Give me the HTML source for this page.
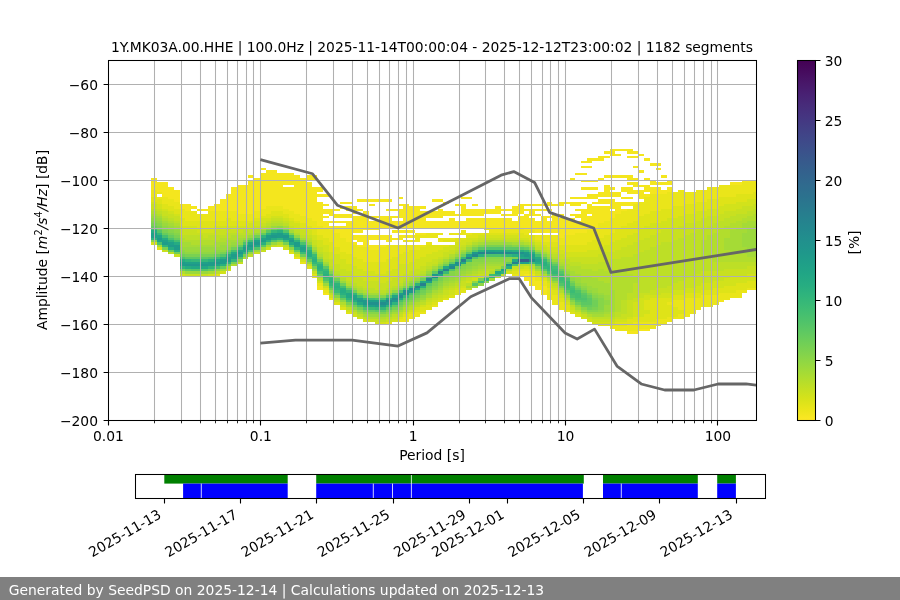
<!DOCTYPE html>
<html lang="en"><head><meta charset="utf-8"><title>PPSD 1Y.MK03A.00.HHE</title>
<style>html,body{margin:0;padding:0;background:#fff;overflow:hidden}svg{display:block;will-change:transform}text{font-family:'DejaVu Sans','Liberation Sans',sans-serif;font-size:13.89px;fill:#000}</style></head><body>
<svg width="900" height="600" viewBox="0 0 900 600">
<rect width="900" height="600" fill="#fff"/>
<g id="heat" shape-rendering="crispEdges"><path fill="#f4e61e" d="M151 178h6v12h-6zM157 182h5v10h-5zM162 182h6v15h-6zM168 187h6v12h-6zM174 190h6v12h-6zM180 204h5v5h-5zM185 204h6v7h-6zM191 206h6v3h-6zM197 209h6v2h-6zM203 209h5v2h-5zM208 206h6v5h-6zM214 204h6v7h-6zM220 199h6v12h-6zM226 194h5v17h-5zM231 187h6v24h-6zM237 185h6v29h-6zM243 185h5v29h-5zM248 180h6v34h-6zM248 175h6v3h-6zM254 178h6v33h-6zM260 173h6v36h-6zM260 168h6v2h-6zM266 170h5v36h-5zM271 170h6v36h-6zM277 173h6v33h-6zM283 187h6v22h-6zM283 173h6v12h-6zM289 187h5v24h-5zM289 173h5v12h-5zM294 175h6v39h-6zM300 178h6v38h-6zM306 182h6v36h-6zM306 175h6v5h-6zM312 187h5v34h-5zM312 175h5v5h-5zM317 286h6v4h-6zM317 202h6v24h-6zM317 194h6v3h-6zM317 187h6v5h-6zM323 293h6v2h-6zM323 221h6v7h-6zM323 216h6v2h-6zM323 209h6v5h-6zM323 204h6v2h-6zM323 194h6v3h-6zM329 226h5v4h-5zM329 221h5v2h-5zM329 209h5v7h-5zM334 226h6v7h-6zM334 221h6v2h-6zM334 214h6v4h-6zM334 209h6v2h-6zM340 226h6v12h-6zM340 221h6v2h-6zM340 214h6v4h-6zM340 206h6v3h-6zM340 202h6v2h-6zM346 221h6v21h-6zM346 214h6v4h-6zM346 206h6v5h-6zM346 202h6v2h-6zM352 242h5v3h-5zM352 235h5v5h-5zM352 216h5v17h-5zM352 206h5v8h-5zM357 245h6v2h-6zM357 235h6v7h-6zM357 216h6v17h-6zM357 209h6v2h-6zM357 199h6v3h-6zM363 235h6v12h-6zM363 211h6v19h-6zM363 199h6v3h-6zM369 245h6v5h-6zM369 235h6v5h-6zM369 221h6v9h-6zM369 216h6v2h-6zM369 204h6v2h-6zM369 199h6v3h-6zM375 245h5v5h-5zM375 235h5v5h-5zM375 221h5v9h-5zM375 216h5v2h-5zM375 199h5v3h-5zM380 245h6v2h-6zM380 235h6v5h-6zM380 216h6v12h-6zM380 199h6v3h-6zM386 235h6v7h-6zM386 216h6v12h-6zM386 209h6v2h-6zM386 199h6v3h-6zM392 238h6v2h-6zM392 230h6v3h-6zM392 221h6v7h-6zM392 216h6v2h-6zM392 209h6v2h-6zM398 235h5v5h-5zM398 230h5v3h-5zM398 221h5v7h-5zM398 209h5v9h-5zM398 204h5v2h-5zM398 197h5v2h-5zM403 235h6v3h-6zM403 230h6v3h-6zM403 204h6v24h-6zM409 235h6v3h-6zM409 230h6v3h-6zM409 206h6v22h-6zM415 233h5v2h-5zM415 206h5v22h-5zM420 233h6v2h-6zM420 211h6v17h-6zM420 206h6v3h-6zM426 221h6v7h-6zM426 211h6v7h-6zM432 221h6v7h-6zM432 211h6v7h-6zM432 199h6v3h-6zM438 221h5v7h-5zM438 209h5v9h-5zM438 199h5v3h-5zM443 221h6v7h-6zM443 211h6v5h-6zM443 202h6v2h-6zM449 218h6v10h-6zM449 211h6v5h-6zM455 221h6v7h-6zM455 214h6v2h-6zM455 204h6v2h-6zM461 221h5v7h-5zM461 204h5v12h-5zM461 197h5v2h-5zM466 218h6v10h-6zM466 209h6v7h-6zM466 197h6v2h-6zM472 218h6v10h-6zM472 209h6v7h-6zM472 204h6v2h-6zM478 218h6v10h-6zM478 209h6v7h-6zM484 218h5v10h-5zM484 209h5v5h-5zM489 218h6v10h-6zM489 209h6v5h-6zM495 218h6v10h-6zM495 206h6v8h-6zM501 218h5v10h-5zM501 214h5v2h-5zM501 209h5v2h-5zM506 218h6v10h-6zM506 214h6v2h-6zM506 209h6v2h-6zM512 221h6v7h-6zM512 206h6v10h-6zM518 216h6v12h-6zM518 204h6v10h-6zM524 274h5v7h-5zM524 214h5v16h-5zM524 209h5v2h-5zM524 204h5v2h-5zM529 276h6v10h-6zM529 218h6v12h-6zM529 209h6v7h-6zM529 204h6v2h-6zM535 281h6v9h-6zM535 221h6v12h-6zM535 214h6v2h-6zM535 209h6v2h-6zM535 204h6v2h-6zM541 286h6v9h-6zM541 216h6v17h-6zM541 209h6v2h-6zM541 204h6v2h-6zM547 221h5v12h-5zM547 216h5v2h-5zM547 209h5v2h-5zM547 202h5v4h-5zM552 214h6v19h-6zM552 204h6v2h-6zM558 218h6v20h-6zM558 214h6v2h-6zM558 202h6v4h-6zM564 218h6v17h-6zM564 202h6v2h-6zM570 218h5v17h-5zM570 214h5v2h-5zM570 202h5v4h-5zM570 197h5v2h-5zM570 178h5v2h-5zM575 221h6v12h-6zM575 214h6v4h-6zM575 209h6v2h-6zM575 202h6v4h-6zM575 197h6v2h-6zM575 173h6v2h-6zM581 209h6v24h-6zM581 202h6v2h-6zM581 197h6v2h-6zM581 187h6v3h-6zM581 180h6v2h-6zM581 173h6v2h-6zM581 166h6v2h-6zM581 161h6v2h-6zM587 216h5v14h-5zM587 204h5v10h-5zM587 194h5v5h-5zM587 187h5v3h-5zM587 180h5v2h-5zM587 166h5v2h-5zM587 158h5v5h-5zM592 206h6v22h-6zM592 202h6v2h-6zM592 194h6v5h-6zM592 187h6v3h-6zM592 180h6v2h-6zM592 158h6v3h-6zM598 206h6v17h-6zM598 199h6v5h-6zM598 192h6v5h-6zM598 178h6v2h-6zM598 156h6v5h-6zM604 206h6v15h-6zM604 199h6v5h-6zM604 185h6v12h-6zM604 175h6v3h-6zM604 156h6v2h-6zM604 151h6v3h-6zM610 211h5v7h-5zM610 199h5v10h-5zM610 192h5v5h-5zM610 187h5v3h-5zM610 175h5v3h-5zM610 149h5v7h-5zM615 202h6v12h-6zM615 192h6v5h-6zM615 175h6v3h-6zM615 154h6v2h-6zM615 149h6v2h-6zM621 209h6v2h-6zM621 202h6v4h-6zM621 197h6v2h-6zM621 187h6v5h-6zM621 175h6v3h-6zM621 149h6v2h-6zM627 331h6v3h-6zM627 202h6v4h-6zM627 197h6v2h-6zM627 187h6v7h-6zM627 182h6v3h-6zM627 175h6v5h-6zM627 156h6v2h-6zM627 149h6v5h-6zM633 331h5v3h-5zM633 202h5v2h-5zM633 190h5v4h-5zM633 182h5v5h-5zM633 178h5v2h-5zM633 166h5v2h-5zM633 156h5v2h-5zM633 151h5v3h-5zM638 329h6v2h-6zM638 190h6v9h-6zM638 185h6v2h-6zM638 170h6v3h-6zM638 154h6v2h-6zM644 329h6v2h-6zM644 194h6v3h-6zM644 185h6v7h-6zM644 178h6v2h-6zM644 158h6v3h-6zM650 187h6v7h-6zM650 180h6v5h-6zM650 163h6v3h-6zM656 187h5v7h-5zM656 182h5v3h-5zM656 168h5v2h-5zM656 163h5v3h-5zM661 190h6v4h-6zM661 182h6v3h-6zM661 175h6v3h-6zM667 187h6v5h-6zM667 180h6v5h-6zM719 300h5v2h-5zM730 182h6v3h-6zM736 182h6v3h-6zM742 180h5v2h-5zM747 180h6v2h-6zM753 180h3v2h-3z"/><path fill="#eae51a" d="M151 190h6v7h-6zM157 197h5v2h-5zM157 192h5v2h-5zM162 197h6v7h-6zM168 199h6v7h-6zM174 202h6v7h-6zM180 209h5v9h-5zM185 211h6v10h-6zM191 211h6v10h-6zM197 214h6v7h-6zM203 214h5v7h-5zM208 211h6v10h-6zM214 211h6v10h-6zM220 211h6v10h-6zM226 211h5v7h-5zM231 211h6v10h-6zM237 214h6v7h-6zM243 214h5v7h-5zM248 214h6v7h-6zM254 211h6v7h-6zM260 209h6v7h-6zM266 206h5v8h-5zM271 206h6v5h-6zM277 206h6v5h-6zM283 209h6v5h-6zM289 211h5v7h-5zM294 257h6v2h-6zM294 214h6v7h-6zM300 262h6v2h-6zM300 216h6v7h-6zM306 218h6v8h-6zM312 276h5v2h-5zM312 221h5v7h-5zM317 283h6v3h-6zM317 226h6v9h-6zM323 290h6v3h-6zM323 228h6v10h-6zM329 298h5v2h-5zM329 230h5v12h-5zM334 233h6v14h-6zM340 238h6v14h-6zM346 242h6v12h-6zM352 245h5v12h-5zM357 247h6v12h-6zM363 247h6v15h-6zM369 250h6v12h-6zM375 250h5v12h-5zM380 247h6v15h-6zM386 245h6v14h-6zM392 245h6v12h-6zM398 319h5v3h-5zM398 245h5v9h-5zM403 317h6v5h-6zM403 245h6v7h-6zM403 240h6v2h-6zM409 314h6v5h-6zM409 245h6v5h-6zM409 240h6v2h-6zM415 312h5v5h-5zM415 245h5v5h-5zM415 235h5v7h-5zM420 312h6v2h-6zM420 245h6v2h-6zM420 235h6v3h-6zM426 242h6v3h-6zM426 233h6v5h-6zM432 305h6v2h-6zM432 233h6v5h-6zM438 238h5v4h-5zM438 233h5v2h-5zM443 238h6v2h-6zM449 238h6v2h-6zM449 233h6v2h-6zM455 233h6v2h-6zM461 230h5v5h-5zM466 233h6v2h-6zM484 228h5v2h-5zM489 228h6v5h-6zM495 228h6v5h-6zM501 228h5v5h-5zM506 228h6v5h-6zM512 274h6v2h-6zM512 228h6v5h-6zM518 271h6v5h-6zM518 228h6v5h-6zM524 271h5v3h-5zM524 230h5v5h-5zM529 274h6v2h-6zM529 230h6v3h-6zM535 276h6v5h-6zM535 235h6v5h-6zM541 281h6v5h-6zM541 235h6v7h-6zM547 288h5v12h-5zM547 235h5v7h-5zM552 295h6v10h-6zM552 235h6v7h-6zM558 302h6v8h-6zM558 238h6v7h-6zM564 310h6v2h-6zM564 235h6v10h-6zM570 235h5v10h-5zM575 233h6v12h-6zM581 233h6v12h-6zM587 230h5v12h-5zM592 228h6v12h-6zM598 223h6v15h-6zM604 221h6v14h-6zM610 326h5v3h-5zM610 218h5v15h-5zM615 326h6v5h-6zM615 214h6v14h-6zM621 326h6v5h-6zM621 211h6v15h-6zM627 324h6v7h-6zM627 209h6v14h-6zM633 322h5v9h-5zM633 204h5v17h-5zM638 322h6v7h-6zM638 202h6v14h-6zM644 322h6v7h-6zM644 197h6v17h-6zM650 322h6v7h-6zM650 194h6v17h-6zM656 319h5v7h-5zM656 194h5v17h-5zM661 319h6v5h-6zM661 194h6v15h-6zM667 317h6v5h-6zM667 302h6v3h-6zM667 192h6v17h-6zM673 317h5v2h-5zM673 300h5v7h-5zM673 192h5v14h-5zM678 314h6v5h-6zM678 300h6v10h-6zM678 190h6v16h-6zM684 298h6v19h-6zM684 192h6v12h-6zM690 298h6v16h-6zM690 192h6v12h-6zM696 298h5v12h-5zM696 190h5v12h-5zM701 295h6v12h-6zM701 190h6v12h-6zM707 295h6v12h-6zM707 187h6v12h-6zM713 295h6v10h-6zM713 187h6v12h-6zM719 293h5v7h-5zM719 185h5v12h-5zM724 293h6v7h-6zM724 185h6v12h-6zM730 293h6v5h-6zM730 185h6v12h-6zM736 290h6v8h-6zM736 185h6v9h-6zM742 290h5v3h-5zM742 182h5v12h-5zM747 288h6v2h-6zM747 182h6v12h-6zM753 288h3v2h-3zM753 182h3v10h-3z"/><path fill="#dfe318" d="M151 197h6v5h-6zM157 247h5v3h-5zM157 199h5v5h-5zM162 204h6v5h-6zM168 206h6v5h-6zM174 209h6v5h-6zM180 218h5v8h-5zM185 221h6v5h-6zM191 221h6v5h-6zM197 221h6v7h-6zM203 221h5v7h-5zM208 221h6v7h-6zM214 274h6v2h-6zM214 221h6v5h-6zM220 221h6v5h-6zM226 218h5v8h-5zM231 221h6v5h-6zM237 221h6v5h-6zM243 221h5v5h-5zM248 221h6v2h-6zM254 218h6v3h-6zM260 216h6v2h-6zM266 214h5v4h-5zM271 211h6v5h-6zM277 211h6v5h-6zM283 214h6v4h-6zM289 252h5v2h-5zM289 218h5v3h-5zM294 221h6v2h-6zM300 223h6v5h-6zM306 266h6v3h-6zM306 226h6v4h-6zM312 274h5v2h-5zM312 228h5v7h-5zM317 235h6v5h-6zM323 288h6v2h-6zM323 238h6v7h-6zM329 242h5v10h-5zM334 302h6v3h-6zM334 247h6v7h-6zM340 307h6v3h-6zM340 252h6v7h-6zM346 312h6v2h-6zM346 254h6v10h-6zM352 257h5v9h-5zM357 259h6v10h-6zM363 262h6v9h-6zM369 262h6v9h-6zM375 262h5v12h-5zM380 262h6v12h-6zM386 322h6v2h-6zM386 259h6v12h-6zM392 257h6v12h-6zM398 317h5v2h-5zM398 254h5v10h-5zM403 314h6v3h-6zM403 252h6v12h-6zM409 312h6v2h-6zM409 250h6v12h-6zM415 310h5v2h-5zM415 250h5v9h-5zM420 307h6v5h-6zM420 247h6v10h-6zM426 305h6v5h-6zM426 245h6v9h-6zM432 302h6v3h-6zM432 245h6v7h-6zM438 300h5v2h-5zM438 245h5v5h-5zM443 298h6v2h-6zM443 245h6v2h-6zM443 240h6v2h-6zM449 295h6v3h-6zM449 240h6v2h-6zM455 290h6v5h-6zM455 238h6v4h-6zM461 288h5v5h-5zM461 238h5v2h-5zM466 235h6v3h-6zM472 233h6v5h-6zM478 233h6v2h-6zM484 233h5v2h-5zM489 233h6v2h-6zM495 233h6v2h-6zM501 233h5v2h-5zM506 233h6v2h-6zM512 271h6v3h-6zM512 233h6v2h-6zM518 269h6v2h-6zM518 233h6v5h-6zM524 269h5v2h-5zM524 235h5v3h-5zM529 271h6v3h-6zM529 235h6v5h-6zM535 240h6v2h-6zM541 278h6v3h-6zM541 242h6v3h-6zM547 283h5v5h-5zM547 242h5v5h-5zM552 290h6v5h-6zM552 242h6v5h-6zM558 298h6v4h-6zM558 245h6v5h-6zM564 305h6v5h-6zM564 245h6v7h-6zM570 312h5v2h-5zM570 245h5v7h-5zM575 314h6v3h-6zM575 245h6v7h-6zM581 245h6v7h-6zM587 242h5v8h-5zM592 240h6v10h-6zM598 324h6v2h-6zM598 238h6v9h-6zM604 324h6v2h-6zM604 235h6v10h-6zM610 324h5v2h-5zM610 233h5v9h-5zM615 322h6v4h-6zM615 228h6v12h-6zM621 322h6v4h-6zM621 226h6v12h-6zM627 319h6v5h-6zM627 223h6v12h-6zM633 317h5v5h-5zM633 221h5v12h-5zM638 317h6v5h-6zM638 216h6v12h-6zM644 314h6v8h-6zM644 300h6v10h-6zM644 214h6v12h-6zM650 298h6v24h-6zM650 211h6v12h-6zM656 298h5v21h-5zM656 211h5v12h-5zM661 298h6v21h-6zM661 209h6v12h-6zM667 305h6v12h-6zM667 298h6v4h-6zM667 209h6v9h-6zM673 307h5v10h-5zM673 295h5v5h-5zM673 206h5v12h-5zM678 310h6v4h-6zM678 295h6v5h-6zM678 206h6v10h-6zM684 293h6v5h-6zM684 204h6v10h-6zM690 293h6v5h-6zM690 204h6v10h-6zM696 293h5v5h-5zM696 202h5v9h-5zM701 290h6v5h-6zM701 202h6v9h-6zM707 290h6v5h-6zM707 199h6v10h-6zM713 288h6v7h-6zM713 199h6v10h-6zM719 288h5v5h-5zM719 197h5v9h-5zM724 286h6v7h-6zM724 197h6v7h-6zM730 286h6v7h-6zM730 197h6v7h-6zM736 283h6v7h-6zM736 194h6v8h-6zM742 283h5v7h-5zM742 194h5v8h-5zM747 281h6v7h-6zM747 194h6v5h-6zM753 281h3v7h-3zM753 192h3v7h-3z"/><path fill="#d2e21b" d="M151 242h6v3h-6zM151 202h6v2h-6zM157 204h5v5h-5zM162 209h6v2h-6zM168 211h6v3h-6zM174 214h6v2h-6zM180 274h5v2h-5zM180 226h5v4h-5zM185 226h6v4h-6zM191 226h6v4h-6zM197 228h6v5h-6zM203 228h5v5h-5zM208 274h6v2h-6zM208 228h6v5h-6zM214 226h6v4h-6zM220 271h6v3h-6zM220 226h6v4h-6zM226 269h5v2h-5zM226 226h5v2h-5zM231 226h6v4h-6zM237 226h6v2h-6zM243 226h5v2h-5zM248 223h6v5h-6zM254 221h6v5h-6zM260 218h6v5h-6zM266 247h5v3h-5zM266 218h5v3h-5zM271 216h6v2h-6zM277 245h6v2h-6zM277 216h6v2h-6zM283 247h6v3h-6zM283 218h6v3h-6zM289 221h5v5h-5zM294 254h6v3h-6zM294 223h6v5h-6zM300 259h6v3h-6zM300 228h6v2h-6zM306 230h6v5h-6zM312 235h5v5h-5zM317 281h6v2h-6zM317 240h6v7h-6zM323 245h6v7h-6zM329 295h5v3h-5zM329 252h5v7h-5zM334 254h6v10h-6zM340 259h6v10h-6zM346 310h6v2h-6zM346 264h6v7h-6zM352 314h5v3h-5zM352 266h5v10h-5zM357 317h6v2h-6zM357 269h6v9h-6zM363 319h6v3h-6zM363 271h6v10h-6zM369 271h6v10h-6zM375 322h5v2h-5zM375 274h5v7h-5zM380 322h6v2h-6zM380 274h6v9h-6zM386 271h6v10h-6zM392 319h6v3h-6zM392 269h6v9h-6zM398 264h5v12h-5zM403 312h6v2h-6zM403 264h6v10h-6zM409 310h6v2h-6zM409 262h6v9h-6zM415 307h5v3h-5zM415 259h5v10h-5zM420 305h6v2h-6zM420 257h6v9h-6zM426 302h6v3h-6zM426 254h6v8h-6zM432 300h6v2h-6zM432 252h6v7h-6zM438 298h5v2h-5zM438 250h5v7h-5zM443 295h6v3h-6zM443 247h6v5h-6zM449 290h6v5h-6zM449 245h6v5h-6zM455 288h6v2h-6zM455 242h6v5h-6zM461 286h5v2h-5zM461 240h5v5h-5zM466 281h6v2h-6zM466 238h6v4h-6zM472 278h6v3h-6zM472 238h6v2h-6zM478 276h6v2h-6zM478 235h6v3h-6zM484 235h5v3h-5zM489 235h6v3h-6zM495 235h6v3h-6zM501 235h5v3h-5zM506 271h6v3h-6zM506 235h6v3h-6zM512 269h6v2h-6zM512 235h6v3h-6zM518 238h6v2h-6zM524 266h5v3h-5zM524 238h5v2h-5zM529 269h6v2h-6zM529 240h6v2h-6zM535 274h6v2h-6zM535 242h6v3h-6zM541 245h6v2h-6zM547 281h5v2h-5zM547 247h5v3h-5zM552 288h6v2h-6zM552 247h6v5h-6zM558 295h6v3h-6zM558 250h6v4h-6zM564 302h6v3h-6zM564 252h6v5h-6zM570 310h5v2h-5zM570 252h5v5h-5zM575 312h6v2h-6zM575 252h6v5h-6zM581 317h6v2h-6zM581 252h6v5h-6zM587 319h5v3h-5zM587 250h5v7h-5zM592 322h6v2h-6zM592 250h6v7h-6zM598 322h6v2h-6zM598 247h6v7h-6zM604 322h6v2h-6zM604 245h6v7h-6zM610 322h5v2h-5zM610 242h5v10h-5zM615 319h6v3h-6zM615 240h6v10h-6zM621 319h6v3h-6zM621 238h6v9h-6zM627 317h6v2h-6zM627 235h6v10h-6zM633 302h5v15h-5zM633 233h5v9h-5zM638 298h6v19h-6zM638 228h6v12h-6zM644 310h6v4h-6zM644 295h6v5h-6zM644 226h6v12h-6zM650 295h6v3h-6zM650 223h6v12h-6zM656 295h5v3h-5zM656 223h5v10h-5zM661 293h6v5h-6zM661 221h6v9h-6zM667 293h6v5h-6zM667 218h6v12h-6zM673 290h5v5h-5zM673 218h5v10h-5zM678 290h6v5h-6zM678 216h6v10h-6zM684 288h6v5h-6zM684 214h6v9h-6zM690 288h6v5h-6zM690 214h6v9h-6zM696 286h5v7h-5zM696 211h5v10h-5zM701 283h6v7h-6zM701 211h6v7h-6zM707 283h6v7h-6zM707 209h6v7h-6zM713 281h6v7h-6zM713 209h6v7h-6zM719 281h5v7h-5zM719 206h5v8h-5zM724 278h6v8h-6zM724 204h6v7h-6zM730 276h6v10h-6zM730 204h6v7h-6zM736 276h6v7h-6zM736 202h6v7h-6zM742 276h5v7h-5zM742 202h5v4h-5zM747 274h6v7h-6zM747 199h6v7h-6zM753 274h3v7h-3zM753 199h3v5h-3z"/><path fill="#c8e020" d="M151 204h6v5h-6zM157 209h5v2h-5zM162 250h6v2h-6zM162 211h6v5h-6zM168 214h6v4h-6zM174 254h6v3h-6zM174 216h6v5h-6zM180 230h5v5h-5zM185 274h6v2h-6zM185 230h6v5h-6zM191 274h6v2h-6zM191 230h6v5h-6zM197 274h6v2h-6zM197 233h6v2h-6zM203 274h5v2h-5zM203 233h5v5h-5zM208 233h6v2h-6zM214 230h6v5h-6zM220 230h6v5h-6zM226 228h5v5h-5zM231 230h6v3h-6zM237 262h6v2h-6zM237 228h6v5h-6zM243 228h5v2h-5zM248 228h6v2h-6zM254 252h6v2h-6zM254 226h6v2h-6zM260 250h6v2h-6zM260 223h6v3h-6zM266 221h5v2h-5zM271 245h6v2h-6zM271 218h6v3h-6zM277 218h6v3h-6zM283 221h6v2h-6zM289 250h5v2h-5zM289 226h5v2h-5zM294 228h6v2h-6zM300 230h6v5h-6zM306 264h6v2h-6zM306 235h6v3h-6zM312 271h5v3h-5zM312 240h5v5h-5zM317 247h6v5h-6zM323 286h6v2h-6zM323 252h6v7h-6zM329 259h5v7h-5zM334 300h6v2h-6zM334 264h6v7h-6zM340 305h6v2h-6zM340 269h6v7h-6zM346 271h6v10h-6zM352 312h5v2h-5zM352 276h5v7h-5zM357 278h6v8h-6zM363 281h6v7h-6zM369 319h6v3h-6zM369 281h6v7h-6zM375 319h5v3h-5zM375 281h5v9h-5zM380 283h6v7h-6zM386 319h6v3h-6zM386 281h6v7h-6zM392 317h6v2h-6zM392 278h6v8h-6zM398 314h5v3h-5zM398 276h5v7h-5zM403 274h6v4h-6zM409 271h6v5h-6zM415 269h5v5h-5zM420 266h6v5h-6zM426 300h6v2h-6zM426 262h6v4h-6zM432 298h6v2h-6zM432 259h6v5h-6zM438 295h5v3h-5zM438 257h5v2h-5zM443 290h6v5h-6zM443 252h6v5h-6zM449 288h6v2h-6zM449 250h6v4h-6zM455 286h6v2h-6zM455 247h6v3h-6zM461 281h5v5h-5zM461 245h5v2h-5zM466 288h6v2h-6zM466 278h6v3h-6zM466 242h6v3h-6zM472 276h6v2h-6zM472 240h6v2h-6zM478 274h6v2h-6zM478 238h6v2h-6zM484 271h5v5h-5zM484 238h5v2h-5zM489 238h6v2h-6zM495 238h6v2h-6zM501 238h5v2h-5zM506 238h6v2h-6zM512 266h6v3h-6zM512 238h6v2h-6zM518 266h6v3h-6zM524 240h5v2h-5zM535 271h6v3h-6zM535 245h6v2h-6zM541 276h6v2h-6zM541 247h6v3h-6zM547 250h5v2h-5zM552 286h6v2h-6zM552 252h6v2h-6zM558 293h6v2h-6zM558 254h6v5h-6zM564 300h6v2h-6zM564 257h6v2h-6zM570 307h5v3h-5zM570 257h5v5h-5zM575 257h6v5h-6zM581 314h6v3h-6zM581 257h6v7h-6zM587 317h5v2h-5zM587 257h5v7h-5zM592 319h6v3h-6zM592 257h6v7h-6zM598 319h6v3h-6zM598 254h6v8h-6zM604 319h6v3h-6zM604 252h6v10h-6zM610 319h5v3h-5zM610 252h5v7h-5zM615 317h6v2h-6zM615 250h6v9h-6zM621 314h6v5h-6zM621 247h6v10h-6zM627 300h6v17h-6zM627 245h6v12h-6zM633 298h5v4h-5zM633 242h5v12h-5zM638 293h6v5h-6zM638 240h6v12h-6zM644 293h6v2h-6zM644 238h6v12h-6zM650 290h6v5h-6zM650 235h6v12h-6zM656 288h5v7h-5zM656 233h5v12h-5zM661 288h6v5h-6zM661 230h6v12h-6zM667 286h6v7h-6zM667 230h6v12h-6zM673 283h5v7h-5zM673 228h5v12h-5zM678 281h6v9h-6zM678 226h6v12h-6zM684 278h6v10h-6zM684 223h6v12h-6zM690 276h6v12h-6zM690 223h6v10h-6zM696 274h5v12h-5zM696 221h5v9h-5zM701 271h6v12h-6zM701 218h6v10h-6zM707 271h6v12h-6zM707 216h6v10h-6zM713 271h6v10h-6zM713 216h6v7h-6zM719 271h5v10h-5zM719 214h5v7h-5zM724 269h6v9h-6zM724 211h6v7h-6zM730 269h6v7h-6zM730 211h6v5h-6zM736 269h6v7h-6zM736 209h6v5h-6zM742 269h5v7h-5zM742 206h5v8h-5zM747 266h6v8h-6zM747 206h6v5h-6zM753 266h3v8h-3zM753 204h3v5h-3z"/><path fill="#bddf26" d="M151 209h6v2h-6zM157 211h5v3h-5zM162 216h6v2h-6zM168 252h6v2h-6zM168 218h6v3h-6zM174 221h6v2h-6zM180 235h5v3h-5zM185 235h6v5h-6zM191 235h6v5h-6zM197 235h6v5h-6zM203 238h5v2h-5zM208 235h6v5h-6zM214 271h6v3h-6zM214 235h6v5h-6zM220 235h6v3h-6zM226 233h5v5h-5zM231 233h6v2h-6zM237 233h6v2h-6zM243 230h5v5h-5zM248 254h6v3h-6zM248 230h6v3h-6zM254 228h6v2h-6zM260 226h6v2h-6zM266 223h5v3h-5zM271 221h6v2h-6zM277 221h6v2h-6zM283 245h6v2h-6zM283 223h6v3h-6zM289 228h5v2h-5zM294 230h6v3h-6zM300 235h6v3h-6zM306 238h6v2h-6zM312 245h5v2h-5zM317 278h6v3h-6zM317 252h6v2h-6zM323 259h6v3h-6zM329 293h5v2h-5zM329 266h5v3h-5zM334 271h6v3h-6zM340 276h6v2h-6zM346 307h6v3h-6zM346 281h6v2h-6zM352 283h5v3h-5zM357 314h6v3h-6zM357 286h6v2h-6zM363 317h6v2h-6zM363 288h6v2h-6zM369 288h6v5h-6zM375 290h5v3h-5zM380 319h6v3h-6zM380 290h6v3h-6zM386 317h6v2h-6zM386 288h6v2h-6zM392 314h6v3h-6zM392 286h6v2h-6zM398 312h5v2h-5zM398 283h5v3h-5zM403 310h6v2h-6zM403 278h6v3h-6zM409 307h6v3h-6zM409 276h6v2h-6zM415 305h5v2h-5zM415 274h5v2h-5zM420 302h6v3h-6zM420 271h6v3h-6zM426 298h6v2h-6zM426 266h6v3h-6zM432 295h6v3h-6zM432 264h6v2h-6zM438 293h5v2h-5zM438 259h5v3h-5zM443 288h6v2h-6zM443 257h6v2h-6zM449 286h6v2h-6zM455 283h6v3h-6zM455 250h6v2h-6zM461 278h5v3h-5zM461 247h5v3h-5zM466 283h6v3h-6zM466 276h6v2h-6zM472 274h6v2h-6zM478 271h6v3h-6zM478 240h6v2h-6zM484 269h5v2h-5zM489 269h6v2h-6zM495 276h6v2h-6zM501 274h5v2h-5zM506 240h6v2h-6zM512 240h6v2h-6zM518 240h6v2h-6zM529 266h6v3h-6zM529 242h6v3h-6zM535 247h6v3h-6zM541 250h6v2h-6zM547 278h5v3h-5zM547 252h5v2h-5zM552 283h6v3h-6zM552 254h6v3h-6zM558 259h6v3h-6zM564 259h6v5h-6zM570 305h5v2h-5zM570 262h5v4h-5zM575 310h6v2h-6zM575 262h6v4h-6zM581 264h6v5h-6zM587 264h5v5h-5zM592 317h6v2h-6zM592 264h6v7h-6zM598 317h6v2h-6zM598 262h6v7h-6zM604 317h6v2h-6zM604 262h6v9h-6zM610 317h5v2h-5zM610 259h5v12h-5zM615 312h6v5h-6zM615 259h6v12h-6zM621 300h6v14h-6zM621 257h6v14h-6zM627 293h6v7h-6zM627 257h6v17h-6zM633 283h5v15h-5zM633 254h5v22h-5zM638 252h6v41h-6zM644 250h6v43h-6zM650 247h6v43h-6zM656 245h5v43h-5zM661 242h6v46h-6zM667 242h6v44h-6zM673 240h5v43h-5zM678 238h6v43h-6zM684 235h6v43h-6zM690 233h6v43h-6zM696 230h5v44h-5zM701 257h6v14h-6zM701 228h6v12h-6zM707 259h6v12h-6zM707 226h6v9h-6zM713 262h6v9h-6zM713 223h6v10h-6zM719 262h5v9h-5zM719 221h5v7h-5zM724 262h6v7h-6zM724 218h6v8h-6zM730 262h6v7h-6zM730 216h6v7h-6zM736 262h6v7h-6zM736 214h6v7h-6zM742 262h5v7h-5zM742 214h5v4h-5zM747 262h6v4h-6zM747 211h6v5h-6zM753 262h3v4h-3zM753 209h3v5h-3z"/><path fill="#b2dd2d" d="M151 211h6v3h-6zM157 214h5v2h-5zM162 218h6v3h-6zM168 221h6v2h-6zM174 223h6v3h-6zM180 271h5v3h-5zM180 238h5v4h-5zM185 240h6v2h-6zM191 240h6v5h-6zM197 240h6v5h-6zM203 240h5v5h-5zM208 240h6v5h-6zM214 240h6v2h-6zM220 238h6v4h-6zM226 266h5v3h-5zM226 238h5v2h-5zM231 264h6v2h-6zM231 235h6v5h-6zM237 235h6v3h-6zM243 257h5v2h-5zM243 235h5v3h-5zM248 233h6v2h-6zM254 230h6v3h-6zM260 228h6v2h-6zM266 226h5v2h-5zM271 223h6v3h-6zM277 242h6v3h-6zM277 223h6v3h-6zM294 233h6v2h-6zM300 257h6v2h-6zM306 240h6v2h-6zM317 254h6v3h-6zM334 298h6v2h-6zM334 274h6v2h-6zM340 302h6v3h-6zM340 278h6v3h-6zM346 283h6v3h-6zM352 310h5v2h-5zM352 286h5v2h-5zM357 288h6v2h-6zM363 290h6v3h-6zM369 317h6v2h-6zM375 317h5v2h-5zM380 317h6v2h-6zM380 293h6v2h-6zM386 290h6v3h-6zM392 288h6v2h-6zM403 307h6v3h-6zM403 281h6v2h-6zM409 305h6v2h-6zM409 278h6v3h-6zM415 302h5v3h-5zM415 276h5v2h-5zM420 300h6v2h-6zM420 274h6v2h-6zM426 269h6v2h-6zM432 293h6v2h-6zM438 290h5v3h-5zM438 262h5v2h-5zM443 286h6v2h-6zM449 283h6v3h-6zM449 254h6v3h-6zM455 281h6v2h-6zM455 252h6v2h-6zM461 276h5v2h-5zM466 274h6v2h-6zM466 245h6v2h-6zM472 271h6v3h-6zM472 242h6v3h-6zM478 269h6v2h-6zM484 266h5v3h-5zM484 240h5v2h-5zM489 271h6v3h-6zM489 266h6v3h-6zM489 240h6v2h-6zM495 266h6v3h-6zM495 240h6v2h-6zM501 240h5v2h-5zM506 269h6v2h-6zM518 264h6v2h-6zM524 264h5v2h-5zM524 242h5v3h-5zM541 274h6v2h-6zM552 257h6v2h-6zM558 290h6v3h-6zM558 262h6v2h-6zM564 298h6v2h-6zM564 264h6v5h-6zM570 266h5v5h-5zM575 266h6v8h-6zM581 312h6v2h-6zM581 269h6v7h-6zM587 314h5v3h-5zM587 269h5v7h-5zM592 271h6v7h-6zM598 269h6v12h-6zM604 314h6v3h-6zM604 271h6v12h-6zM610 312h5v5h-5zM610 271h5v19h-5zM615 271h6v41h-6zM621 271h6v29h-6zM627 274h6v19h-6zM633 276h5v7h-5zM701 240h6v17h-6zM707 235h6v24h-6zM713 233h6v29h-6zM719 228h5v34h-5zM724 250h6v12h-6zM724 226h6v12h-6zM730 252h6v10h-6zM730 223h6v7h-6zM736 254h6v8h-6zM736 221h6v7h-6zM742 254h5v8h-5zM742 218h5v5h-5zM747 257h6v5h-6zM747 216h6v5h-6zM753 257h3v5h-3zM753 214h3v7h-3z"/><path fill="#a5db36" d="M151 214h6v2h-6zM157 245h5v2h-5zM157 216h5v2h-5zM162 221h6v2h-6zM168 223h6v3h-6zM174 226h6v2h-6zM180 242h5v5h-5zM185 242h6v5h-6zM191 245h6v2h-6zM197 245h6v2h-6zM203 245h5v2h-5zM208 271h6v3h-6zM208 245h6v2h-6zM214 242h6v5h-6zM220 269h6v2h-6zM220 242h6v3h-6zM226 240h5v5h-5zM231 240h6v2h-6zM237 238h6v2h-6zM260 247h6v3h-6zM266 245h5v2h-5zM283 226h6v2h-6zM289 230h5v3h-5zM294 252h6v2h-6zM300 238h6v2h-6zM312 269h5v2h-5zM312 247h5v3h-5zM323 262h6v2h-6zM329 269h5v2h-5zM357 312h6v2h-6zM357 290h6v3h-6zM363 314h6v3h-6zM369 293h6v2h-6zM375 293h5v2h-5zM386 314h6v3h-6zM392 312h6v2h-6zM398 310h5v2h-5zM398 286h5v2h-5zM403 283h6v3h-6zM426 295h6v3h-6zM432 290h6v3h-6zM432 266h6v3h-6zM438 288h5v2h-5zM443 283h6v3h-6zM443 259h6v3h-6zM449 281h6v2h-6zM449 257h6v2h-6zM455 278h6v3h-6zM461 274h5v2h-5zM461 250h5v2h-5zM466 286h6v2h-6zM466 271h6v3h-6zM472 286h6v2h-6zM472 269h6v2h-6zM478 266h6v3h-6zM478 242h6v3h-6zM484 264h5v2h-5zM489 278h6v3h-6zM489 264h6v2h-6zM495 264h6v2h-6zM501 264h5v2h-5zM512 242h6v3h-6zM518 242h6v3h-6zM529 264h6v2h-6zM529 245h6v2h-6zM535 269h6v2h-6zM541 252h6v2h-6zM547 254h5v3h-5zM558 264h6v2h-6zM564 269h6v2h-6zM570 271h5v5h-5zM575 307h6v3h-6zM575 274h6v4h-6zM581 276h6v7h-6zM587 276h5v10h-5zM592 314h6v3h-6zM592 278h6v10h-6zM598 314h6v3h-6zM598 281h6v12h-6zM604 312h6v2h-6zM604 283h6v12h-6zM610 290h5v22h-5zM724 238h6v12h-6zM730 230h6v22h-6zM736 228h6v26h-6zM742 247h5v7h-5zM742 223h5v10h-5zM747 250h6v7h-6zM747 221h6v7h-6zM753 250h3v7h-3zM753 221h3v5h-3z"/><path fill="#9bd93c" d="M151 216h6v2h-6zM157 218h5v3h-5zM162 223h6v3h-6zM168 226h6v2h-6zM174 228h6v2h-6zM180 247h5v3h-5zM185 271h6v3h-6zM185 247h6v5h-6zM191 271h6v3h-6zM191 247h6v5h-6zM197 271h6v3h-6zM197 247h6v5h-6zM203 271h5v3h-5zM203 247h5v5h-5zM208 247h6v5h-6zM214 247h6v3h-6zM220 245h6v5h-6zM226 245h5v2h-5zM231 242h6v3h-6zM237 240h6v2h-6zM243 238h5v2h-5zM248 235h6v3h-6zM254 250h6v2h-6zM254 233h6v2h-6zM271 242h6v3h-6zM271 226h6v2h-6zM306 262h6v2h-6zM306 242h6v3h-6zM317 276h6v2h-6zM317 257h6v2h-6zM323 283h6v3h-6zM329 290h5v3h-5zM334 276h6v2h-6zM340 281h6v2h-6zM346 305h6v2h-6zM352 288h5v2h-5zM363 293h6v2h-6zM369 314h6v3h-6zM375 314h5v3h-5zM380 314h6v3h-6zM403 305h6v2h-6zM409 302h6v3h-6zM409 281h6v2h-6zM415 300h5v2h-5zM415 278h5v3h-5zM420 298h6v2h-6zM426 293h6v2h-6zM426 271h6v3h-6zM438 286h5v2h-5zM438 264h5v2h-5zM443 281h6v2h-6zM449 278h6v3h-6zM455 276h6v2h-6zM455 254h6v3h-6zM461 271h5v3h-5zM466 269h6v2h-6zM466 247h6v3h-6zM472 266h6v3h-6zM472 245h6v2h-6zM478 264h6v2h-6zM484 262h5v2h-5zM484 242h5v3h-5zM489 262h6v2h-6zM489 242h6v3h-6zM495 262h6v2h-6zM495 242h6v3h-6zM501 262h5v2h-5zM501 242h5v3h-5zM506 242h6v3h-6zM535 250h6v2h-6zM547 276h5v2h-5zM552 281h6v2h-6zM552 259h6v3h-6zM558 288h6v2h-6zM564 295h6v3h-6zM564 271h6v3h-6zM570 302h5v3h-5zM570 276h5v2h-5zM575 278h6v5h-6zM581 310h6v2h-6zM581 283h6v3h-6zM587 312h5v2h-5zM587 286h5v4h-5zM592 312h6v2h-6zM592 288h6v5h-6zM598 312h6v2h-6zM598 293h6v2h-6zM604 305h6v7h-6zM604 295h6v5h-6zM742 233h5v14h-5zM747 228h6v22h-6zM753 226h3v24h-3z"/><path fill="#90d743" d="M151 218h6v3h-6zM157 221h5v2h-5zM162 226h6v2h-6zM168 228h6v2h-6zM174 230h6v3h-6zM180 250h5v2h-5zM185 252h6v2h-6zM191 252h6v2h-6zM197 252h6v2h-6zM203 252h5v2h-5zM208 252h6v2h-6zM214 269h6v2h-6zM214 250h6v2h-6zM220 250h6v2h-6zM226 247h5v3h-5zM231 245h6v2h-6zM237 259h6v3h-6zM237 242h6v3h-6zM248 252h6v2h-6zM260 230h6v3h-6zM266 228h5v2h-5zM277 226h6v2h-6zM289 247h5v3h-5zM294 235h6v3h-6zM312 250h5v2h-5zM323 264h6v2h-6zM340 300h6v2h-6zM346 286h6v2h-6zM352 307h5v3h-5zM357 310h6v2h-6zM363 312h6v2h-6zM386 312h6v2h-6zM386 293h6v2h-6zM392 310h6v2h-6zM392 290h6v3h-6zM398 307h5v3h-5zM415 298h5v2h-5zM420 295h6v3h-6zM420 276h6v2h-6zM432 288h6v2h-6zM432 269h6v2h-6zM438 283h5v3h-5zM443 278h6v3h-6zM443 262h6v2h-6zM449 276h6v2h-6zM455 271h6v5h-6zM461 269h5v2h-5zM461 252h5v2h-5zM466 266h6v3h-6zM472 281h6v2h-6zM472 262h6v4h-6zM478 283h6v3h-6zM478 262h6v2h-6zM484 259h5v3h-5zM489 259h6v3h-6zM495 259h6v3h-6zM501 259h5v3h-5zM506 259h6v3h-6zM524 245h5v2h-5zM541 271h6v3h-6zM547 257h5v2h-5zM558 266h6v3h-6zM570 278h5v3h-5zM575 305h6v2h-6zM575 283h6v3h-6zM581 286h6v2h-6zM587 290h5v3h-5zM592 293h6v2h-6zM598 310h6v2h-6zM598 295h6v3h-6zM604 300h6v5h-6z"/><path fill="#86d549" d="M151 240h6v2h-6zM151 221h6v2h-6zM157 223h5v3h-5zM162 228h6v2h-6zM168 230h6v3h-6zM174 233h6v2h-6zM180 252h5v2h-5zM214 252h6v2h-6zM283 228h6v2h-6zM329 271h5v3h-5zM334 295h6v3h-6zM369 312h6v2h-6zM369 295h6v3h-6zM375 312h5v2h-5zM375 295h5v3h-5zM380 295h6v3h-6zM398 288h5v2h-5zM403 302h6v3h-6zM403 286h6v2h-6zM409 300h6v2h-6zM409 283h6v3h-6zM426 290h6v3h-6zM426 274h6v2h-6zM432 286h6v2h-6zM438 281h5v2h-5zM443 276h6v2h-6zM449 271h6v5h-6zM449 259h6v3h-6zM455 269h6v2h-6zM461 266h5v3h-5zM466 262h6v4h-6zM466 250h6v2h-6zM472 259h6v3h-6zM478 259h6v3h-6zM478 245h6v2h-6zM484 281h5v2h-5zM484 257h5v2h-5zM489 257h6v2h-6zM495 269h6v2h-6zM495 257h6v2h-6zM501 257h5v2h-5zM506 257h6v2h-6zM512 245h6v2h-6zM518 245h6v2h-6zM529 247h6v3h-6zM535 266h6v3h-6zM541 254h6v3h-6zM564 274h6v2h-6zM570 300h5v2h-5zM581 307h6v3h-6zM581 288h6v2h-6zM587 310h5v2h-5zM592 310h6v2h-6zM592 295h6v3h-6zM598 298h6v12h-6z"/><path fill="#7ad151" d="M151 223h6v3h-6zM157 226h5v2h-5zM162 247h6v3h-6zM162 230h6v3h-6zM168 233h6v2h-6zM174 235h6v3h-6zM185 254h6v3h-6zM191 254h6v3h-6zM197 254h6v3h-6zM203 254h5v3h-5zM208 254h6v3h-6zM220 252h6v2h-6zM231 262h6v2h-6zM243 254h5v3h-5zM243 240h5v2h-5zM248 238h6v2h-6zM283 242h6v3h-6zM289 233h5v2h-5zM300 240h6v2h-6zM312 266h5v3h-5zM346 302h6v3h-6zM357 293h6v2h-6zM380 312h6v2h-6zM386 310h6v2h-6zM392 307h6v3h-6zM398 305h5v2h-5zM415 295h5v3h-5zM415 281h5v2h-5zM420 293h6v2h-6zM426 288h6v2h-6zM432 283h6v3h-6zM438 278h5v3h-5zM438 266h5v3h-5zM443 274h6v2h-6zM455 257h6v2h-6zM461 264h5v2h-5zM472 247h6v3h-6zM478 278h6v3h-6zM478 257h6v2h-6zM484 245h5v2h-5zM489 245h6v2h-6zM495 245h6v2h-6zM501 266h5v3h-5zM501 245h5v2h-5zM506 245h6v2h-6zM512 257h6v2h-6zM547 274h5v2h-5zM552 278h6v3h-6zM552 262h6v2h-6zM558 286h6v2h-6zM564 293h6v2h-6zM570 281h5v2h-5zM575 286h6v2h-6zM587 293h5v2h-5zM592 307h6v3h-6zM592 298h6v2h-6z"/><path fill="#70cf57" d="M157 228h5v2h-5zM174 252h6v2h-6zM180 269h5v2h-5zM180 254h5v3h-5zM226 264h5v2h-5zM226 250h5v2h-5zM231 247h6v3h-6zM254 235h6v3h-6zM271 228h6v2h-6zM277 240h6v2h-6zM300 254h6v3h-6zM306 245h6v2h-6zM317 259h6v3h-6zM323 281h6v2h-6zM329 288h5v2h-5zM334 278h6v3h-6zM340 283h6v3h-6zM352 305h5v2h-5zM352 290h5v3h-5zM357 307h6v3h-6zM363 310h6v2h-6zM363 295h6v3h-6zM403 300h6v2h-6zM409 298h6v2h-6zM420 290h6v3h-6zM420 278h6v3h-6zM426 286h6v2h-6zM432 281h6v2h-6zM438 276h5v2h-5zM443 264h6v2h-6zM461 254h5v3h-5zM484 276h5v2h-5zM535 252h6v2h-6zM558 269h6v2h-6zM575 302h6v3h-6zM581 290h6v3h-6zM587 307h5v3h-5zM592 300h6v7h-6z"/><path fill="#67cc5c" d="M151 226h6v2h-6zM162 233h6v2h-6zM168 250h6v2h-6zM168 235h6v3h-6zM174 238h6v2h-6zM208 269h6v2h-6zM214 254h6v3h-6zM220 266h6v3h-6zM237 245h6v2h-6zM260 233h6v2h-6zM266 242h5v3h-5zM294 250h6v2h-6zM306 259h6v3h-6zM312 252h5v2h-5zM317 274h6v2h-6zM340 298h6v2h-6zM369 310h6v2h-6zM398 302h5v3h-5zM409 295h6v3h-6zM415 293h5v2h-5zM455 266h6v3h-6zM506 262h6v2h-6zM524 247h5v3h-5zM547 259h5v3h-5zM564 276h6v2h-6zM570 298h5v2h-5zM570 283h5v3h-5zM575 288h6v2h-6zM581 305h6v2h-6zM587 305h5v2h-5zM587 295h5v3h-5z"/><path fill="#5cc863" d="M185 269h6v2h-6zM185 257h6v2h-6zM191 257h6v2h-6zM197 257h6v2h-6zM203 257h5v2h-5zM260 245h6v2h-6zM266 230h5v3h-5zM277 228h6v2h-6zM294 238h6v2h-6zM323 266h6v3h-6zM329 274h5v2h-5zM334 293h6v2h-6zM346 288h6v2h-6zM375 310h5v2h-5zM380 310h6v2h-6zM386 307h6v3h-6zM392 305h6v2h-6zM403 298h6v2h-6zM420 288h6v2h-6zM426 283h6v3h-6zM432 271h6v3h-6zM449 262h6v2h-6zM466 252h6v2h-6zM478 247h6v3h-6zM506 247h6v3h-6zM512 247h6v3h-6zM518 247h6v3h-6zM541 269h6v2h-6zM541 257h6v2h-6zM552 264h6v2h-6zM564 290h6v3h-6zM575 300h6v2h-6zM581 302h6v3h-6zM581 293h6v2h-6zM587 298h5v7h-5z"/><path fill="#54c568" d="M157 230h5v3h-5zM191 269h6v2h-6zM197 269h6v2h-6zM203 269h5v2h-5zM208 257h6v2h-6zM220 254h6v3h-6zM254 247h6v3h-6zM271 240h6v2h-6zM283 230h6v3h-6zM386 295h6v3h-6zM392 293h6v2h-6zM415 290h5v3h-5zM449 269h6v2h-6zM472 283h6v3h-6zM472 257h6v2h-6zM472 250h6v2h-6zM484 247h5v3h-5zM489 247h6v3h-6zM495 247h6v3h-6zM501 247h5v3h-5zM529 250h6v2h-6zM552 276h6v2h-6zM558 283h6v3h-6zM558 271h6v3h-6zM581 300h6v2h-6zM581 295h6v3h-6z"/><path fill="#4cc26c" d="M157 242h5v3h-5zM168 238h6v2h-6zM180 257h5v2h-5zM226 252h5v2h-5zM237 257h6v2h-6zM243 242h5v3h-5zM289 245h5v2h-5zM300 242h6v3h-6zM312 264h5v2h-5zM323 278h6v3h-6zM329 286h5v2h-5zM334 281h6v2h-6zM346 300h6v2h-6zM363 307h6v3h-6zM375 298h5v2h-5zM380 298h6v2h-6zM398 300h5v2h-5zM398 290h5v3h-5zM409 293h6v2h-6zM432 278h6v3h-6zM455 259h6v3h-6zM484 254h5v3h-5zM489 254h6v3h-6zM495 254h6v3h-6zM512 264h6v2h-6zM535 264h6v2h-6zM547 271h5v3h-5zM564 278h6v3h-6zM570 295h5v3h-5zM570 286h5v2h-5zM575 298h6v2h-6zM575 290h6v3h-6zM581 298h6v2h-6z"/><path fill="#44bf70" d="M151 228h6v2h-6zM162 235h6v3h-6zM174 240h6v2h-6zM214 266h6v3h-6zM231 250h6v2h-6zM248 250h6v2h-6zM248 240h6v2h-6zM306 247h6v3h-6zM317 271h6v3h-6zM317 262h6v2h-6zM340 286h6v2h-6zM352 302h5v3h-5zM357 305h6v2h-6zM369 298h6v2h-6zM403 288h6v2h-6zM409 286h6v2h-6zM466 259h6v3h-6zM501 254h5v3h-5zM535 254h6v3h-6zM547 262h5v2h-5zM552 274h6v2h-6zM552 266h6v3h-6zM558 281h6v2h-6zM558 274h6v2h-6zM564 288h6v2h-6zM570 293h5v2h-5zM570 288h5v2h-5zM575 293h6v5h-6z"/><path fill="#3bbb75" d="M214 257h6v2h-6zM237 247h6v3h-6zM254 238h6v2h-6zM283 240h6v2h-6zM289 235h5v3h-5zM300 252h6v2h-6zM306 257h6v2h-6zM312 254h5v3h-5zM323 269h6v2h-6zM329 276h5v2h-5zM334 290h6v3h-6zM340 295h6v3h-6zM357 295h6v3h-6zM369 307h6v3h-6zM426 276h6v2h-6zM443 271h6v3h-6zM478 281h6v2h-6zM489 274h6v2h-6zM529 262h6v2h-6zM552 269h6v2h-6zM558 276h6v5h-6zM564 281h6v7h-6zM570 290h5v3h-5z"/><path fill="#35b779" d="M157 233h5v2h-5zM191 259h6v3h-6zM197 259h6v3h-6zM203 259h5v3h-5zM231 259h6v3h-6zM243 252h5v2h-5zM271 230h6v3h-6zM312 262h5v2h-5zM323 276h6v2h-6zM329 283h5v3h-5zM346 290h6v3h-6zM352 293h5v2h-5zM375 307h5v3h-5zM380 307h6v3h-6zM403 295h6v3h-6zM438 269h5v2h-5zM461 257h5v2h-5zM495 274h6v2h-6zM506 254h6v3h-6zM524 250h5v2h-5zM541 266h6v3h-6zM541 259h6v3h-6zM547 269h5v2h-5zM547 264h5v2h-5zM552 271h6v3h-6z"/><path fill="#2fb47c" d="M151 238h6v2h-6zM162 245h6v2h-6zM180 266h5v3h-5zM185 259h6v3h-6zM208 266h6v3h-6zM226 262h5v2h-5zM260 235h6v3h-6zM266 233h5v2h-5zM277 238h6v2h-6zM294 247h6v3h-6zM294 240h6v2h-6zM312 257h5v2h-5zM317 269h6v2h-6zM317 264h6v2h-6zM323 271h6v3h-6zM329 278h5v3h-5zM334 288h6v2h-6zM334 283h6v3h-6zM346 298h6v2h-6zM363 298h6v2h-6zM386 305h6v2h-6zM392 302h6v3h-6zM415 283h5v3h-5zM489 276h6v2h-6zM501 271h5v3h-5zM547 266h5v3h-5z"/><path fill="#2ab07f" d="M168 240h6v2h-6zM174 250h6v2h-6zM208 259h6v3h-6zM220 264h6v2h-6zM220 257h6v2h-6zM260 242h6v3h-6zM266 240h5v2h-5zM277 230h6v3h-6zM306 250h6v2h-6zM312 259h5v3h-5zM317 266h6v3h-6zM323 274h6v2h-6zM329 281h5v2h-5zM334 286h6v2h-6zM340 293h6v2h-6zM340 288h6v2h-6zM420 286h6v2h-6zM478 254h6v3h-6zM478 250h6v2h-6zM484 278h5v3h-5zM506 266h6v3h-6zM512 254h6v3h-6zM512 250h6v2h-6zM518 250h6v2h-6zM529 252h6v2h-6zM541 262h6v4h-6z"/><path fill="#25ac82" d="M151 230h6v3h-6zM162 238h6v2h-6zM168 247h6v3h-6zM174 242h6v3h-6zM180 259h5v3h-5zM185 266h6v3h-6zM226 254h5v3h-5zM243 245h5v2h-5zM271 238h6v2h-6zM283 233h6v2h-6zM300 245h6v2h-6zM306 252h6v5h-6zM340 290h6v3h-6zM352 300h5v2h-5zM363 305h6v2h-6zM506 250h6v2h-6zM518 257h6v2h-6zM535 262h6v2h-6zM535 257h6v2h-6z"/><path fill="#22a884" d="M191 266h6v3h-6zM197 266h6v3h-6zM203 266h5v3h-5zM231 252h6v2h-6zM237 254h6v3h-6zM254 245h6v2h-6zM289 242h5v3h-5zM346 293h6v5h-6zM357 302h6v3h-6zM398 298h5v2h-5zM420 281h6v2h-6zM438 274h5v2h-5zM443 266h6v3h-6zM461 262h5v2h-5zM495 271h6v3h-6zM512 259h6v3h-6zM524 257h5v2h-5z"/><path fill="#20a486" d="M157 240h5v2h-5zM157 235h5v3h-5zM214 264h6v2h-6zM214 259h6v3h-6zM237 250h6v2h-6zM248 247h6v3h-6zM248 242h6v3h-6zM289 238h5v2h-5zM300 250h6v2h-6zM352 295h5v3h-5zM386 298h6v2h-6zM392 295h6v3h-6zM415 288h5v2h-5zM466 254h6v3h-6zM495 250h6v2h-6zM501 250h5v2h-5zM524 262h5v2h-5zM535 259h6v3h-6z"/><path fill="#1fa188" d="M151 233h6v5h-6zM162 240h6v2h-6zM168 242h6v3h-6zM185 262h6v2h-6zM191 262h6v2h-6zM197 262h6v2h-6zM203 262h5v2h-5zM231 257h6v2h-6zM243 250h5v2h-5zM254 240h6v2h-6zM260 238h6v2h-6zM271 233h6v2h-6zM283 238h6v2h-6zM300 247h6v3h-6zM352 298h5v2h-5zM357 298h6v2h-6zM369 305h6v2h-6zM369 300h6v2h-6zM375 300h5v2h-5zM380 300h6v2h-6zM426 281h6v2h-6zM484 250h5v2h-5zM489 250h6v2h-6zM501 269h5v2h-5zM518 262h6v2h-6zM518 254h6v3h-6zM529 254h6v5h-6z"/><path fill="#1e9c89" d="M157 238h5v2h-5zM162 242h6v3h-6zM168 245h6v2h-6zM174 245h6v5h-6zM180 262h5v4h-5zM208 262h6v4h-6zM220 259h6v5h-6zM226 257h5v5h-5zM231 254h6v3h-6zM243 247h5v3h-5zM260 240h6v2h-6zM266 235h5v5h-5zM277 233h6v5h-6zM294 242h6v5h-6zM375 305h5v2h-5zM380 305h6v2h-6zM398 293h5v2h-5zM524 252h5v2h-5z"/><path fill="#1f988b" d="M185 264h6v2h-6zM191 264h6v2h-6zM197 264h6v2h-6zM203 264h5v2h-5zM214 262h6v2h-6zM237 252h6v2h-6zM248 245h6v2h-6zM254 242h6v3h-6zM271 235h6v3h-6zM283 235h6v3h-6zM289 240h5v2h-5zM357 300h6v2h-6zM363 300h6v5h-6zM386 302h6v3h-6zM392 300h6v2h-6zM409 290h6v3h-6zM432 274h6v2h-6zM449 264h6v2h-6zM472 252h6v2h-6zM524 254h5v3h-5z"/><path fill="#1f948c" d="M455 264h6v2h-6zM506 264h6v2h-6z"/><path fill="#21908d" d="M369 302h6v3h-6zM375 302h5v3h-5zM403 290h6v5h-6zM518 252h6v2h-6z"/><path fill="#228c8d" d="M380 302h6v3h-6zM386 300h6v2h-6zM392 298h6v2h-6zM398 295h5v3h-5zM455 262h6v2h-6zM495 252h6v2h-6zM501 252h5v2h-5zM512 252h6v2h-6zM529 259h6v3h-6z"/><path fill="#23888e" d="M409 288h6v2h-6zM432 276h6v2h-6zM449 266h6v3h-6zM472 254h6v3h-6zM484 252h5v2h-5zM489 252h6v2h-6zM506 252h6v2h-6z"/><path fill="#25848e" d="M426 278h6v3h-6zM478 252h6v2h-6z"/><path fill="#27808e" d="M415 286h5v2h-5zM420 283h6v3h-6zM438 271h5v3h-5zM443 269h6v2h-6zM461 259h5v3h-5zM466 257h6v2h-6zM512 262h6v2h-6z"/><path fill="#355f8d" d="M518 259h6v3h-6zM524 259h5v3h-5z"/></g>
<path d="M154.50 60 V420 M181.50 60 V420 M200.50 60 V420 M215.50 60 V420 M227.50 60 V420 M237.50 60 V420 M246.50 60 V420 M253.50 60 V420 M260.50 60 V420 M306.50 60 V420 M333.50 60 V420 M352.50 60 V420 M367.50 60 V420 M379.50 60 V420 M389.50 60 V420 M398.50 60 V420 M406.50 60 V420 M413.50 60 V420 M459.50 60 V420 M485.50 60 V420 M504.50 60 V420 M519.50 60 V420 M531.50 60 V420 M542.50 60 V420 M550.50 60 V420 M558.50 60 V420 M565.50 60 V420 M611.50 60 V420 M638.50 60 V420 M657.50 60 V420 M672.50 60 V420 M684.50 60 V420 M694.50 60 V420 M703.50 60 V420 M711.50 60 V420 M717.50 60 V420 M108 372.50 H756 M108 324.50 H756 M108 276.50 H756 M108 228.50 H756 M108 180.50 H756 M108 132.50 H756 M108 84.50 H756" stroke="#b0b0b0" stroke-width="1.05" fill="none"/>
<clipPath id="axclip"><rect x="108" y="60" width="648" height="360"/></clipPath>
<path d="M260.37 343.20 L295.48 340.08 L352.10 340.07 L397.97 346.08 L426.97 332.87 L470.67 296.75 L509.26 278.64 L519.24 278.63 L531.30 297.60 L565.10 333.00 L577.17 338.99 L594.53 329.11 L616.98 366.01 L641.24 383.99 L664.63 390.00 L693.87 390.00 L718.13 384.00 L746.05 383.97 L757.31 385.32" stroke="#666666" stroke-width="2.78" fill="none" stroke-linejoin="round" stroke-linecap="butt" clip-path="url(#axclip)"/>
<path d="M260.37 159.60 L312.54 173.77 L337.34 205.20 L397.97 228.00 L501.08 175.19 L513.72 171.59 L534.53 182.40 L549.51 212.39 L593.68 228.01 L610.97 272.39 L757.31 249.32" stroke="#666666" stroke-width="2.78" fill="none" stroke-linejoin="round" stroke-linecap="butt" clip-path="url(#axclip)"/>
<path d="M108.50 420 v5.4 M260.50 420 v5.4 M413.50 420 v5.4 M565.50 420 v5.4 M717.50 420 v5.4 M108.5 420.50 h-4.9 M108.5 372.50 h-4.9 M108.5 324.50 h-4.9 M108.5 276.50 h-4.9 M108.5 228.50 h-4.9 M108.5 180.50 h-4.9 M108.5 132.50 h-4.9 M108.5 84.50 h-4.9" stroke="#000" stroke-width="1.11" fill="none"/>
<path d="M154.50 420 v3.3 M181.50 420 v3.3 M200.50 420 v3.3 M215.50 420 v3.3 M227.50 420 v3.3 M237.50 420 v3.3 M246.50 420 v3.3 M253.50 420 v3.3 M306.50 420 v3.3 M333.50 420 v3.3 M352.50 420 v3.3 M367.50 420 v3.3 M379.50 420 v3.3 M389.50 420 v3.3 M398.50 420 v3.3 M406.50 420 v3.3 M459.50 420 v3.3 M485.50 420 v3.3 M504.50 420 v3.3 M519.50 420 v3.3 M531.50 420 v3.3 M542.50 420 v3.3 M550.50 420 v3.3 M558.50 420 v3.3 M611.50 420 v3.3 M638.50 420 v3.3 M657.50 420 v3.3 M672.50 420 v3.3 M684.50 420 v3.3 M694.50 420 v3.3 M703.50 420 v3.3 M711.50 420 v3.3" stroke="#000" stroke-width="0.83" fill="none"/>
<rect x="108.5" y="60.5" width="648" height="360" fill="none" stroke="#000" stroke-width="1.05"/>
<text x="108.50" y="440.6" text-anchor="middle">0.01</text>
<text x="260.87" y="440.6" text-anchor="middle">0.1</text>
<text x="413.24" y="440.6" text-anchor="middle">1</text>
<text x="565.60" y="440.6" text-anchor="middle">10</text>
<text x="717.97" y="440.6" text-anchor="middle">100</text>
<text x="98.0" y="426.15" text-anchor="end">−200</text>
<text x="98.0" y="378.15" text-anchor="end">−180</text>
<text x="98.0" y="330.15" text-anchor="end">−160</text>
<text x="98.0" y="282.15" text-anchor="end">−140</text>
<text x="98.0" y="234.15" text-anchor="end">−120</text>
<text x="98.0" y="186.15" text-anchor="end">−100</text>
<text x="98.0" y="138.15" text-anchor="end">−80</text>
<text x="98.0" y="90.15" text-anchor="end">−60</text>
<text x="432" y="459.7" text-anchor="middle">Period [s]</text>
<text x="432" y="51.8" text-anchor="middle" textLength="642" lengthAdjust="spacing">1Y.MK03A.00.HHE | 100.0Hz | 2025-11-14T00:00:04 - 2025-12-12T23:00:02 | 1182 segments</text>
<text transform="translate(47.4 240) rotate(-90)" text-anchor="middle">Amplitude [<tspan font-style="oblique">m</tspan><tspan font-size="9.72px" dy="-5">2</tspan><tspan font-style="oblique" dy="5">/s</tspan><tspan font-size="9.72px" dy="-5">4</tspan><tspan font-style="oblique" dy="5">/Hz</tspan>] [dB]</text>
<defs><linearGradient id="cb" x1="0" y1="1" x2="0" y2="0">
<stop offset="0.0000" stop-color="#fde725"/>
<stop offset="0.0312" stop-color="#eae51a"/>
<stop offset="0.0625" stop-color="#d5e21a"/>
<stop offset="0.0938" stop-color="#c0df25"/>
<stop offset="0.1250" stop-color="#aadc32"/>
<stop offset="0.1562" stop-color="#95d840"/>
<stop offset="0.1875" stop-color="#81d34d"/>
<stop offset="0.2188" stop-color="#6ece58"/>
<stop offset="0.2500" stop-color="#5cc863"/>
<stop offset="0.2812" stop-color="#4cc26c"/>
<stop offset="0.3125" stop-color="#3dbc74"/>
<stop offset="0.3438" stop-color="#31b57b"/>
<stop offset="0.3750" stop-color="#27ad81"/>
<stop offset="0.4062" stop-color="#21a685"/>
<stop offset="0.4375" stop-color="#1f9f88"/>
<stop offset="0.4688" stop-color="#1f978b"/>
<stop offset="0.5000" stop-color="#21908d"/>
<stop offset="0.5312" stop-color="#23888e"/>
<stop offset="0.5625" stop-color="#26818e"/>
<stop offset="0.5938" stop-color="#29798e"/>
<stop offset="0.6250" stop-color="#2c718e"/>
<stop offset="0.6562" stop-color="#306a8e"/>
<stop offset="0.6875" stop-color="#33628d"/>
<stop offset="0.7188" stop-color="#375a8c"/>
<stop offset="0.7500" stop-color="#3b518b"/>
<stop offset="0.7812" stop-color="#3f4889"/>
<stop offset="0.8125" stop-color="#423f85"/>
<stop offset="0.8438" stop-color="#453581"/>
<stop offset="0.8750" stop-color="#472c7a"/>
<stop offset="0.9062" stop-color="#482173"/>
<stop offset="0.9375" stop-color="#481769"/>
<stop offset="0.9688" stop-color="#460b5e"/>
<stop offset="1.0000" stop-color="#440154"/>
</linearGradient></defs>
<rect x="797.5" y="60.5" width="18" height="360" fill="url(#cb)" stroke="#000" stroke-width="1.05"/>
<text x="824.8" y="426.20">0</text>
<text x="824.8" y="366.20">5</text>
<text x="824.8" y="306.20">10</text>
<text x="824.8" y="246.20">15</text>
<text x="824.8" y="186.20">20</text>
<text x="824.8" y="126.20">25</text>
<text x="824.8" y="66.20">30</text>
<path d="M815.5 420.50 h5 M815.5 360.50 h5 M815.5 300.50 h5 M815.5 240.50 h5 M815.5 180.50 h5 M815.5 120.50 h5 M815.5 60.50 h5" stroke="#000" stroke-width="1.11" fill="none"/>
<text transform="translate(859.1 242.5) rotate(-90)" text-anchor="middle">[%]</text>
<rect x="135" y="474" width="630" height="24" fill="#fff"/>
<rect x="164.3" y="474" width="123.4" height="9.6" fill="#008000"/>
<rect x="316.2" y="474" width="267.6" height="9.6" fill="#008000"/>
<rect x="603.0" y="474" width="94.8" height="9.6" fill="#008000"/>
<rect x="717.2" y="474" width="18.7" height="9.6" fill="#008000"/>
<rect x="183.1" y="483.6" width="104.6" height="14.4" fill="#0000ff"/>
<rect x="316.2" y="483.6" width="266.7" height="14.4" fill="#0000ff"/>
<rect x="603.0" y="483.6" width="94.8" height="14.4" fill="#0000ff"/>
<rect x="717.2" y="483.6" width="18.7" height="14.4" fill="#0000ff"/>
<path d="M201.3 483.6 V498 M373.3 483.6 V498 M392.5 483.6 V498 M621.3 483.6 V498 M411.4 474 V498" stroke="#fff" stroke-width="0.8" fill="none"/>
<rect x="135.5" y="474.5" width="630" height="24" fill="none" stroke="#000" stroke-width="1.05"/>
<text transform="translate(162.20 517.3) rotate(-30)" text-anchor="end">2025-11-13</text>
<text transform="translate(238.40 517.3) rotate(-30)" text-anchor="end">2025-11-17</text>
<text transform="translate(314.60 517.3) rotate(-30)" text-anchor="end">2025-11-21</text>
<text transform="translate(390.80 517.3) rotate(-30)" text-anchor="end">2025-11-25</text>
<text transform="translate(467.00 517.3) rotate(-30)" text-anchor="end">2025-11-29</text>
<text transform="translate(505.10 517.3) rotate(-30)" text-anchor="end">2025-12-01</text>
<text transform="translate(581.30 517.3) rotate(-30)" text-anchor="end">2025-12-05</text>
<text transform="translate(657.50 517.3) rotate(-30)" text-anchor="end">2025-12-09</text>
<text transform="translate(733.70 517.3) rotate(-30)" text-anchor="end">2025-12-13</text>
<path d="M164.50 498 v5.4 M240.50 498 v5.4 M316.50 498 v5.4 M393.50 498 v5.4 M469.50 498 v5.4 M507.50 498 v5.4 M583.50 498 v5.4 M659.50 498 v5.4 M736.50 498 v5.4" stroke="#000" stroke-width="1.11" fill="none"/>
<rect x="0" y="577" width="900" height="23" fill="#808080"/>
<text x="8.7" y="594.6" fill="#fff" style="fill:#fff" textLength="535.5" lengthAdjust="spacing">Generated by SeedPSD on 2025-12-14 | Calculations updated on 2025-12-13</text>
</svg></body></html>
